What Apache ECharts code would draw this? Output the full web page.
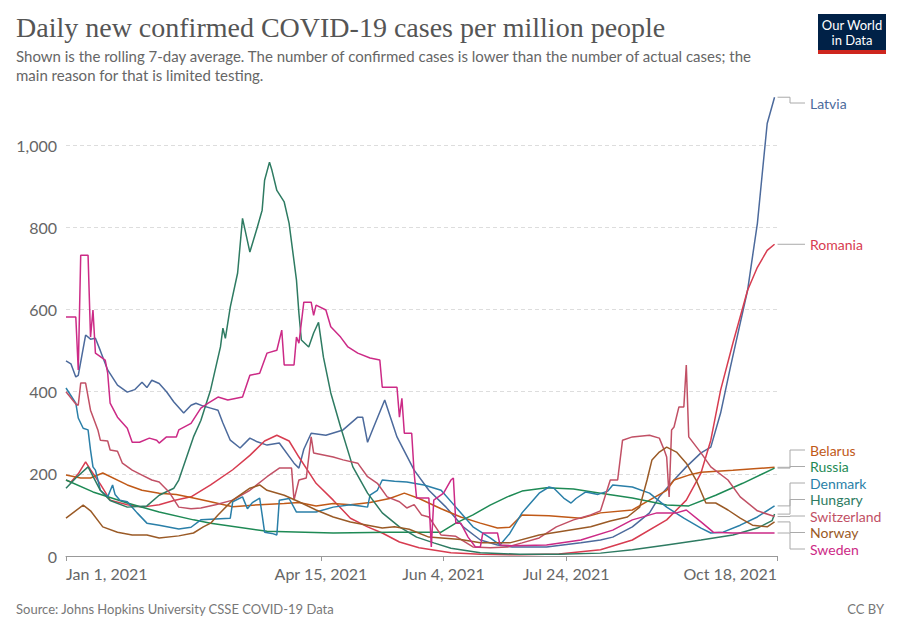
<!DOCTYPE html>
<html>
<head>
<meta charset="utf-8">
<script src="https://cdn.jsdelivr.net/npm/echarts@6/dist/echarts.min.js"></script>
<style>
html,body{margin:0;padding:0;background:#fff;}
#chart{width:900px;height:635px;}
</style>
</head>
<body>
<div id="chart"></div>
<script>
// x values are days since Jan 1, 2021
const xTickDays = [0, 104, 154, 204, 290];
const xTickLabels = ['Jan 1, 2021', 'Apr 15, 2021', 'Jun 4, 2021', 'Jul 24, 2021', 'Oct 18, 2021'];
const yTicks = [0, 200, 400, 600, 800, 1000];

const latvia = [[0,475],[2,468],[4,436],[5,440],[8,538],[10,528],[12,530],[14,500],[17,453],[21,416],[25,399],[28,405],[31,423],[33,410],[35,428],[38,420],[41,400],[44,375],[48,348],[51,367],[53,372],[56,365],[59,360],[62,355],[64,324],[67,282],[71,263],[75,287],[78,278],[82,270],[87,275],[93,226],[95,214],[97,260],[100,299],[106,294],[113,307],[119,338],[121,338],[123,277],[125,307],[130,380],[135,290],[142,209],[148,160],[155,119],[162,71],[169,39],[176,27],[182,22],[196,22],[210,32],[218,39],[223,46],[231,71],[238,105],[242,144],[248,185],[253,217],[259,251],[263,265],[267,348],[271,460],[275,567],[278,647],[282,810],[284,932],[286,1053],[289,1117]];
const romania = [[0,185],[2,180],[5,200],[8,229],[10,210],[14,175],[18,136],[25,125],[31,119],[38,125],[44,135],[51,144],[59,173],[68,210],[75,245],[81,280],[86,294],[91,280],[95,241],[102,177],[109,136],[116,92],[123,71],[129,56],[136,34],[144,20],[157,8],[169,4],[185,3],[201,5],[218,15],[231,39],[245,88],[253,136],[259,202],[263,282],[267,404],[272,518],[278,647],[282,703],[286,744],[289,759]];
const belarus = [[0,197],[6,190],[10,190],[15,202],[25,173],[31,160],[38,153],[45,150],[52,141],[59,132],[68,120],[79,125],[89,128],[95,130],[102,122],[109,128],[116,125],[124,130],[132,140],[138,153],[144,140],[153,115],[161,95],[169,80],[176,68],[181,70],[186,100],[197,98],[210,92],[218,105],[231,112],[238,136],[245,160],[248,185],[254,197],[259,204],[272,209],[289,216]];
const russia = [[0,185],[11,156],[25,129],[38,107],[52,88],[59,80],[82,60],[109,56],[132,58],[153,58],[159,80],[166,100],[173,124],[180,144],[186,158],[196,166],[207,163],[218,153],[231,141],[245,124],[254,122],[265,148],[276,177],[289,214]];
const denmark = [[0,409],[4,372],[5,336],[7,311],[9,307],[10,258],[11,217],[12,209],[13,185],[14,160],[17,144],[19,173],[20,150],[22,136],[25,132],[29,105],[33,80],[38,75],[46,66],[51,70],[55,88],[67,92],[68,132],[72,144],[74,115],[76,130],[79,141],[80,100],[81,58],[84,55],[86,51],[87,136],[91,140],[94,107],[102,107],[109,119],[116,125],[120,122],[123,119],[124,148],[127,160],[129,185],[134,182],[139,180],[146,173],[153,160],[159,119],[166,71],[173,44],[177,27],[181,55],[186,105],[193,153],[197,168],[199,165],[203,141],[206,129],[208,140],[212,156],[217,150],[221,158],[223,173],[231,168],[238,153],[245,119],[252,92],[259,68],[263,56],[268,58],[275,75],[282,95],[289,122]];
const hungary = [[0,165],[4,190],[9,217],[14,160],[18,135],[25,119],[33,122],[38,148],[44,165],[46,185],[52,290],[55,330],[59,405],[63,509],[64,555],[65,530],[67,606],[70,689],[72,822],[75,740],[78,800],[80,842],[81,915],[83,959],[84,939],[86,890],[89,862],[91,810],[94,672],[95,591],[96,526],[99,509],[101,543],[103,569],[105,484],[108,397],[112,314],[117,217],[123,153],[129,105],[136,71],[143,46],[150,32],[157,19],[169,8],[185,4],[201,4],[218,7],[231,15],[245,27],[259,39],[272,51],[282,68],[286,80],[288,86],[289,102]];
const switzerland = [[0,400],[4,370],[5,367],[6,421],[8,421],[10,355],[13,307],[14,282],[17,280],[18,258],[21,255],[23,226],[27,209],[31,197],[35,185],[38,180],[42,156],[46,119],[51,115],[55,117],[61,125],[68,136],[75,160],[82,193],[87,214],[92,214],[93,136],[95,185],[98,190],[100,290],[101,251],[109,241],[113,234],[119,226],[123,193],[127,177],[131,144],[136,132],[139,117],[142,125],[145,100],[148,95],[153,51],[159,48],[166,22],[173,20],[180,22],[186,32],[193,44],[200,71],[207,88],[214,100],[218,110],[222,185],[225,185],[227,282],[231,290],[238,294],[242,287],[244,258],[245,241],[246,144],[247,307],[248,314],[250,363],[252,363],[253,465],[254,290],[259,251],[263,217],[270,185],[275,144],[282,110],[289,96]];
const norway = [[0,92],[7,124],[10,110],[15,71],[21,58],[27,51],[33,51],[38,44],[46,49],[52,56],[56,71],[59,80],[62,100],[68,136],[75,165],[79,173],[82,160],[89,148],[95,132],[102,112],[109,95],[116,83],[123,75],[129,68],[134,71],[140,65],[148,46],[161,40],[169,32],[181,32],[193,51],[214,71],[222,85],[229,95],[234,119],[237,185],[239,234],[242,253],[245,265],[249,253],[253,226],[257,185],[261,129],[265,129],[270,112],[275,92],[280,75],[286,71],[289,83]];
const sweden = [[0,582],[4,582],[5,453],[6,732],[9,732],[10,533],[11,599],[12,494],[16,477],[17,445],[18,372],[21,338],[25,311],[27,277],[30,277],[34,287],[37,282],[38,275],[41,290],[45,290],[46,307],[51,323],[55,360],[58,372],[62,387],[66,380],[72,387],[75,440],[79,445],[82,494],[86,501],[88,550],[89,465],[93,465],[94,533],[95,518],[97,618],[100,618],[101,586],[102,611],[106,599],[108,558],[112,533],[115,509],[119,494],[124,482],[128,477],[129,411],[135,411],[136,338],[137,384],[138,299],[141,299],[142,202],[143,141],[148,141],[149,22],[150,136],[154,153],[157,185],[158,190],[159,80],[161,80],[164,46],[167,22],[169,22],[170,56],[176,56],[177,27],[182,25],[196,27],[210,39],[223,63],[231,88],[241,105],[249,105],[253,112],[259,83],[264,58],[272,56],[289,56]];

const countries = ['Latvia','Romania','Belarus','Russia','Denmark','Hungary','Switzerland','Norway','Sweden'];
const seriesData = [latvia, romania, belarus, russia, denmark, hungary, switzerland, norway, sweden];
const colors = ['#4C6A9C','#D73C50','#C05917','#1E8A55','#2A7FA8','#2E7B62','#C15065','#9A5A26','#CC2A86'];

const chart = echarts.init(document.getElementById('chart'), null, {renderer: 'svg'});
const GRID = {left: 66, right: 123, top: 96, bottom: 79};

const option = {
  animation: false,
  backgroundColor: '#fff',
  title: [
    {text: 'Daily new confirmed COVID-19 cases per million people', left: 11, top: 8,
     textStyle: {fontFamily: 'Liberation Serif', fontSize: 28, fontWeight: 'normal', color: '#555'}},
    {text: 'Shown is the rolling 7-day average. The number of confirmed cases is lower than the number of actual cases; the\nmain reason for that is limited testing.',
     left: 11, top: 41, textStyle: {fontFamily: 'Lato', fontSize: 15, lineHeight: 19, fontWeight: 'normal', color: '#666'}},
    {text: 'Source: Johns Hopkins University CSSE COVID-19 Data', left: 11, top: 597,
     textStyle: {fontFamily: 'Lato', fontSize: 13, fontWeight: 'normal', color: '#777'}},
    {text: 'CC BY', right: 11, top: 597,
     textStyle: {fontFamily: 'Lato', fontSize: 13, fontWeight: 'normal', color: '#777'}}
  ],
  grid: GRID,
  xAxis: {
    type: 'value', min: 0, max: 290,
    axisLine: {show: true, lineStyle: {color: '#999', width: 1}},
    axisTick: {show: true, customValues: xTickDays, length: 5, lineStyle: {color: '#999'}},
    axisLabel: {customValues: xTickDays, formatter: (v) => xTickLabels[xTickDays.indexOf(v)] || '',
      fontFamily: 'Lato', fontSize: 16, color: '#666', margin: 9,
      alignMinLabel: 'left', alignMaxLabel: 'right'},
    splitLine: {show: false}
  },
  yAxis: {
    type: 'value', min: 0, max: 1120, interval: 200,
    axisLine: {show: false}, axisTick: {show: false},
    axisLabel: {fontFamily: 'Lato', fontSize: 16, color: '#666', margin: 9, showMaxLabel: false,
      formatter: (v) => yTicks.indexOf(v) >= 0 ? v.toLocaleString('en-US') : ''},
    splitLine: {show: true, showMinLine: false, showMaxLine: false, lineStyle: {color: '#ddd', type: [4, 3]}}
  },
  series: countries.map((c, i) => ({
    name: c, type: 'line', data: seriesData[i], showSymbol: false, symbol: 'none',
    lineStyle: {color: colors[i], width: 1.5}, itemStyle: {color: colors[i]}, z: 3
  }))
};
chart.setOption(option);

// Right-hand labels with connector lines
function buildLabels() {
  const ends = countries.map((c, i) => {
    const d = seriesData[i];
    const p = chart.convertToPixel({gridIndex: 0}, d[d.length - 1]);
    return {name: c, color: colors[i], x: p[0], y: p[1], idx: i};
  });
  ends.sort((a, b) => a.y - b.y || a.idx - b.idx);
  const gap = 16.5, minY = 103, maxY = 549;
  let clusters = ends.map(e => ({items: [e], center: e.y}));
  const top = c => c.center - (c.items.length - 1) * gap / 2;
  const bot = c => c.center + (c.items.length - 1) * gap / 2;
  let merged = true;
  while (merged) {
    merged = false;
    for (let i = 0; i < clusters.length - 1; i++) {
      if (top(clusters[i + 1]) - bot(clusters[i]) < gap) {
        const items = clusters[i].items.concat(clusters[i + 1].items);
        const center = items.reduce((s, e) => s + e.y, 0) / items.length;
        clusters.splice(i, 2, {items, center});
        merged = true; break;
      }
    }
  }
  clusters.forEach(c => {
    if (top(c) < minY) c.center += minY - top(c);
    if (bot(c) > maxY) c.center -= bot(c) - maxY;
  });
  const elements = [];
  clusters.forEach(c => {
    c.items.forEach((e, k) => {
      const ly = top(c) + k * gap;
      elements.push({type: 'polyline', silent: true,
        shape: {points: [[e.x + 3, e.y], [790, e.y], [790, ly], [805, ly]]},
        style: {stroke: '#aaa', lineWidth: 1, fill: null}});
      elements.push({type: 'text', silent: true, x: 810, y: ly,
        style: {text: e.name, fill: e.color, font: '14px Lato', textVerticalAlign: 'middle', verticalAlign: 'middle'}});
    });
  });
  // OWID logo
  elements.push({type: 'rect', shape: {x: 818, y: 14, width: 68, height: 36}, style: {fill: '#002147'}});
  elements.push({type: 'rect', shape: {x: 818, y: 50, width: 68, height: 4}, style: {fill: '#CE261E'}});
  elements.push({type: 'text', x: 852, y: 25, style: {text: 'Our World', fill: '#fff', font: '13px Lato', align: 'center', textAlign: 'center', verticalAlign: 'middle', textVerticalAlign: 'middle'}});
  elements.push({type: 'text', x: 852, y: 40, style: {text: 'in Data', fill: '#fff', font: '13px Lato', align: 'center', textAlign: 'center', verticalAlign: 'middle', textVerticalAlign: 'middle'}});
  chart.setOption({graphic: {elements}});
}
buildLabels();
</script>
</body>
</html>
